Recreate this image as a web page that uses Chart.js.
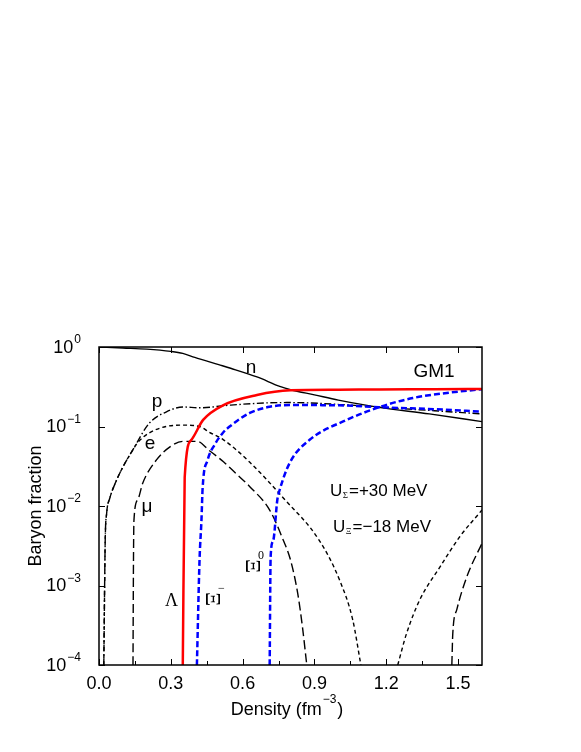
<!DOCTYPE html>
<html>
<head>
<meta charset="utf-8">
<script src="https://cdn.jsdelivr.net/npm/chart.js@4"></script>
<style>
  body { margin: 0; background: #fff; }
</style>
</head>
<body>
<canvas id="chart" width="581" height="752"></canvas>
<script>
// density (fm^-3) and baryon fraction
var nDensity = [0, 0.1, 0.2, 0.3, 0.35, 0.4, 0.5, 0.55, 0.66, 0.755, 0.8, 0.9, 1.0, 1.17, 1.38, 1.6];
var nFraction = [1.0, 0.97, 0.94, 0.88, 0.83, 0.74, 0.6, 0.54, 0.42, 0.32, 0.29, 0.25, 0.215, 0.174, 0.144, 0.115];

var pDensity = [0.02, 0.026, 0.032, 0.045, 0.07, 0.1, 0.14, 0.21, 0.28, 0.35, 0.42, 0.55, 0.7, 0.8, 1.0, 1.17, 1.4, 1.6];
var pFraction = [1e-4, 0.0037, 0.0081, 0.0125, 0.02, 0.031, 0.05, 0.11, 0.152, 0.176, 0.172, 0.186, 0.198, 0.2, 0.19, 0.175, 0.158, 0.144];

var eDensity = [0.02, 0.026, 0.032, 0.045, 0.07, 0.1, 0.14, 0.16, 0.21, 0.28, 0.35, 0.42, 0.46, 0.52, 0.63, 0.77, 0.92, 1.005, 1.06, 1.094, 1.17, 1.248, 1.285, 1.34, 1.424, 1.507, 1.6];
var eFraction = [1e-4, 0.0037, 0.0081, 0.0125, 0.02, 0.031, 0.05, 0.062, 0.083, 0.1, 0.104, 0.1, 0.085, 0.068, 0.0355, 0.0126, 0.0037, 0.00117, 3.7e-4, 1e-4, null, 1e-4, 2.5e-4, 6.6e-4, 0.0017, 0.0041, 0.0089];

var muDensity = [0.142, 0.144, 0.146, 0.162, 0.183, 0.24, 0.295, 0.35, 0.41, 0.46, 0.52, 0.57, 0.63, 0.713, 0.77, 0.8, 0.83, 0.85, 0.868, 1.2, 1.474, 1.478, 1.495, 1.537, 1.6];
var muFraction = [1e-4, 0.002, 0.0066, 0.012, 0.0195, 0.038, 0.055, 0.065, 0.065, 0.05, 0.036, 0.026, 0.0175, 0.0089, 0.0037, 0.0021, 8e-4, 3e-4, 1e-4, null, 1e-4, 2.5e-4, 5e-4, 0.0013, 0.0034];

var lamDensity = [0.35, 0.358, 0.386, 0.435, 0.52, 0.66, 0.8, 1.0, 1.17, 1.4, 1.6];
var lamFraction = [1e-4, 0.023, 0.068, 0.121, 0.186, 0.249, 0.285, 0.29, 0.293, 0.294, 0.296];

var ximDensity = [0.409, 0.42, 0.428, 0.433, 0.454, 0.483, 0.517, 0.546, 0.63, 0.713, 0.8, 1.0, 1.17, 1.4, 1.6];
var ximFraction = [1e-4, 0.0021, 0.0066, 0.017, 0.038, 0.059, 0.083, 0.1, 0.148, 0.177, 0.186, 0.185, 0.175, 0.165, 0.154];

var xi0Density = [0.713, 0.717, 0.728, 0.745, 0.755, 0.797, 0.88, 1.035, 1.173, 1.311, 1.453, 1.6];
var xi0Fraction = [1e-4, 0.0023, 0.0037, 0.012, 0.016, 0.035, 0.068, 0.121, 0.176, 0.228, 0.264, 0.295];

var xTicks = [0.0, 0.3, 0.6, 0.9, 1.2, 1.5];
var xTickLabels = ['0.0', '0.3', '0.6', '0.9', '1.2', '1.5'];
var xMinorTicks = [0.15, 0.45, 0.75, 1.05, 1.35];
var yTicks = [1, 0.1, 0.01, 0.001, 0.0001];
var yTickExps = ['0', '\u22121', '\u22122', '\u22123', '\u22124'];

function pts(xs, ys) {
    return xs.map(function (x, i) { return { x: x, y: ys[i] }; });
}

function line(data, color, width, dash) {
    return {
        data: data,
        borderColor: color,
        borderWidth: width,
        borderDash: dash,
        pointRadius: 0,
        fill: false,
        spanGaps: false,
        cubicInterpolationMode: 'monotone'
    };
}

var SANS = '"Liberation Sans", Arial, sans-serif';
var SERIF = '"Liberation Serif", "Times New Roman", serif';

// frame, inward ticks, tick labels and the text on the plot
var decorations = {
    id: 'decorations',
    afterDraw: function (chart) {
        var ctx = chart.ctx;
        var xs = chart.scales.x, ys = chart.scales.y;
        var a = chart.chartArea;
        ctx.save();
        ctx.strokeStyle = '#000';
        ctx.fillStyle = '#000';

        ctx.lineWidth = 1.5;
        ctx.strokeRect(a.left, a.top, a.right - a.left, a.bottom - a.top);

        ctx.lineWidth = 1;
        ctx.beginPath();
        xTicks.forEach(function (v) {
            var px = Math.round(xs.getPixelForValue(v)) + 0.5;
            ctx.moveTo(px, a.bottom); ctx.lineTo(px, a.bottom - 6);
            ctx.moveTo(px, a.top); ctx.lineTo(px, a.top + 6);
        });
        xMinorTicks.forEach(function (v) {
            var px = Math.round(xs.getPixelForValue(v)) + 0.5;
            ctx.moveTo(px, a.bottom); ctx.lineTo(px, a.bottom - 4);
        });
        yTicks.forEach(function (v) {
            var py = Math.round(ys.getPixelForValue(v)) + 0.5;
            ctx.moveTo(a.left, py); ctx.lineTo(a.left + 6, py);
            ctx.moveTo(a.right, py); ctx.lineTo(a.right - 6, py);
        });
        ctx.stroke();

        // x tick labels
        ctx.font = '18px ' + SANS;
        ctx.textAlign = 'center';
        ctx.textBaseline = 'middle';
        xTicks.forEach(function (v, i) {
            ctx.fillText(xTickLabels[i], xs.getPixelForValue(v), a.bottom + 19);
        });

        // y tick labels 10^k
        yTicks.forEach(function (v, i) {
            var py = ys.getPixelForValue(v) + 1;
            ctx.font = '12px ' + SANS;
            var w = ctx.measureText(yTickExps[i]).width;
            ctx.textAlign = 'right';
            ctx.fillText(yTickExps[i], a.left - 18, py - 8);
            ctx.font = '18px ' + SANS;
            ctx.fillText('10', a.left - 18 - w - 1, py);
        });

        // axis titles
        ctx.font = '18px ' + SANS;
        ctx.textAlign = 'left';
        ctx.textBaseline = 'alphabetic';
        var t1 = 'Density (fm', t2 = '\u22123', t3 = ')';
        var w1 = ctx.measureText(t1).width;
        ctx.font = '12px ' + SANS;
        var w2 = ctx.measureText(t2).width;
        ctx.font = '18px ' + SANS;
        var w3 = ctx.measureText(t3).width;
        var x0 = 286 - (w1 + w2 + w3) / 2;
        ctx.fillText(t1, x0, 715);
        ctx.font = '12px ' + SANS;
        ctx.fillText(t2, x0 + w1 + 1, 703);
        ctx.font = '18px ' + SANS;
        ctx.fillText(t3, x0 + w1 + w2 + 2, 715);

        ctx.save();
        ctx.translate(36, (a.top + a.bottom) / 2);
        ctx.rotate(-Math.PI / 2);
        ctx.textAlign = 'center';
        ctx.textBaseline = 'middle';
        ctx.fillText('Baryon fraction', 0, 0);
        ctx.restore();

        // curve labels
        ctx.textAlign = 'center';
        ctx.textBaseline = 'middle';
        ctx.font = '19px ' + SANS;
        ctx.fillText('n', 251, 368);
        ctx.fillText('p', 157, 402);
        ctx.fillText('e', 150, 444);
        ctx.fillText('\u03bc', 147, 507);
        ctx.fillText('GM1', 434, 372);

        ctx.font = '18px ' + SERIF;
        ctx.fillText('\u039b', 171.5, 601);

        function xiLabel(cx, cy, sup) {
            ctx.save();
            ctx.translate(cx, cy);
            ctx.rotate(Math.PI / 2);
            ctx.font = '22px ' + SERIF;
            ctx.textAlign = 'center';
            ctx.textBaseline = 'middle';
            ctx.fillText('\u039e', 0, 0);
            ctx.restore();
            ctx.font = '12px ' + SERIF;
            ctx.textAlign = 'left';
            ctx.fillText(sup, cx + 6, cy - 10);
        }
        xiLabel(212, 599, '\u2212');
        xiLabel(252, 566, '0');

        // potentials
        function potential(x, y, sub, rest) {
            ctx.textAlign = 'left';
            ctx.textBaseline = 'alphabetic';
            ctx.font = '17px ' + SANS;
            ctx.fillText('U', x, y);
            var wu = ctx.measureText('U').width;
            ctx.font = '9px ' + SERIF;
            ctx.fillText(sub, x + wu + 0.5, y + 2);
            var ws = ctx.measureText(sub).width;
            ctx.font = '17px ' + SANS;
            ctx.fillText(rest, x + wu + ws + 1.5, y);
        }
        potential(330, 496, '\u03a3', '=+30 MeV');
        potential(333, 532, '\u039e', '=\u221218 MeV');

        ctx.restore();
    }
};

var ctx = document.getElementById('chart').getContext('2d');
new Chart(ctx, {
    type: 'line',
    data: {
        datasets: [
            line(pts(lamDensity, lamFraction), '#ff0000', 2.5, []),
            line(pts(xi0Density, xi0Fraction), '#0000ff', 2.5, [6, 3]),
            line(pts(ximDensity, ximFraction), '#0000ff', 2.5, [6, 3]),
            line(pts(nDensity, nFraction), '#000000', 1.4, []),
            line(pts(pDensity, pFraction), '#000000', 1.4, [7, 2.5, 1.5, 2.5]),
            line(pts(eDensity, eFraction), '#000000', 1.4, [4, 3]),
            line(pts(muDensity, muFraction), '#000000', 1.4, [9, 4])
        ]
    },
    options: {
        responsive: false,
        animation: false,
        layout: { padding: { left: 99, right: 99, top: 347, bottom: 87 } },
        scales: {
            x: { type: 'linear', min: 0, max: 1.6, display: false },
            y: { type: 'logarithmic', min: 1e-4, max: 1, display: false }
        },
        plugins: {
            legend: { display: false },
            tooltip: { enabled: false }
        }
    },
    plugins: [decorations]
});
</script>
</body>
</html>
